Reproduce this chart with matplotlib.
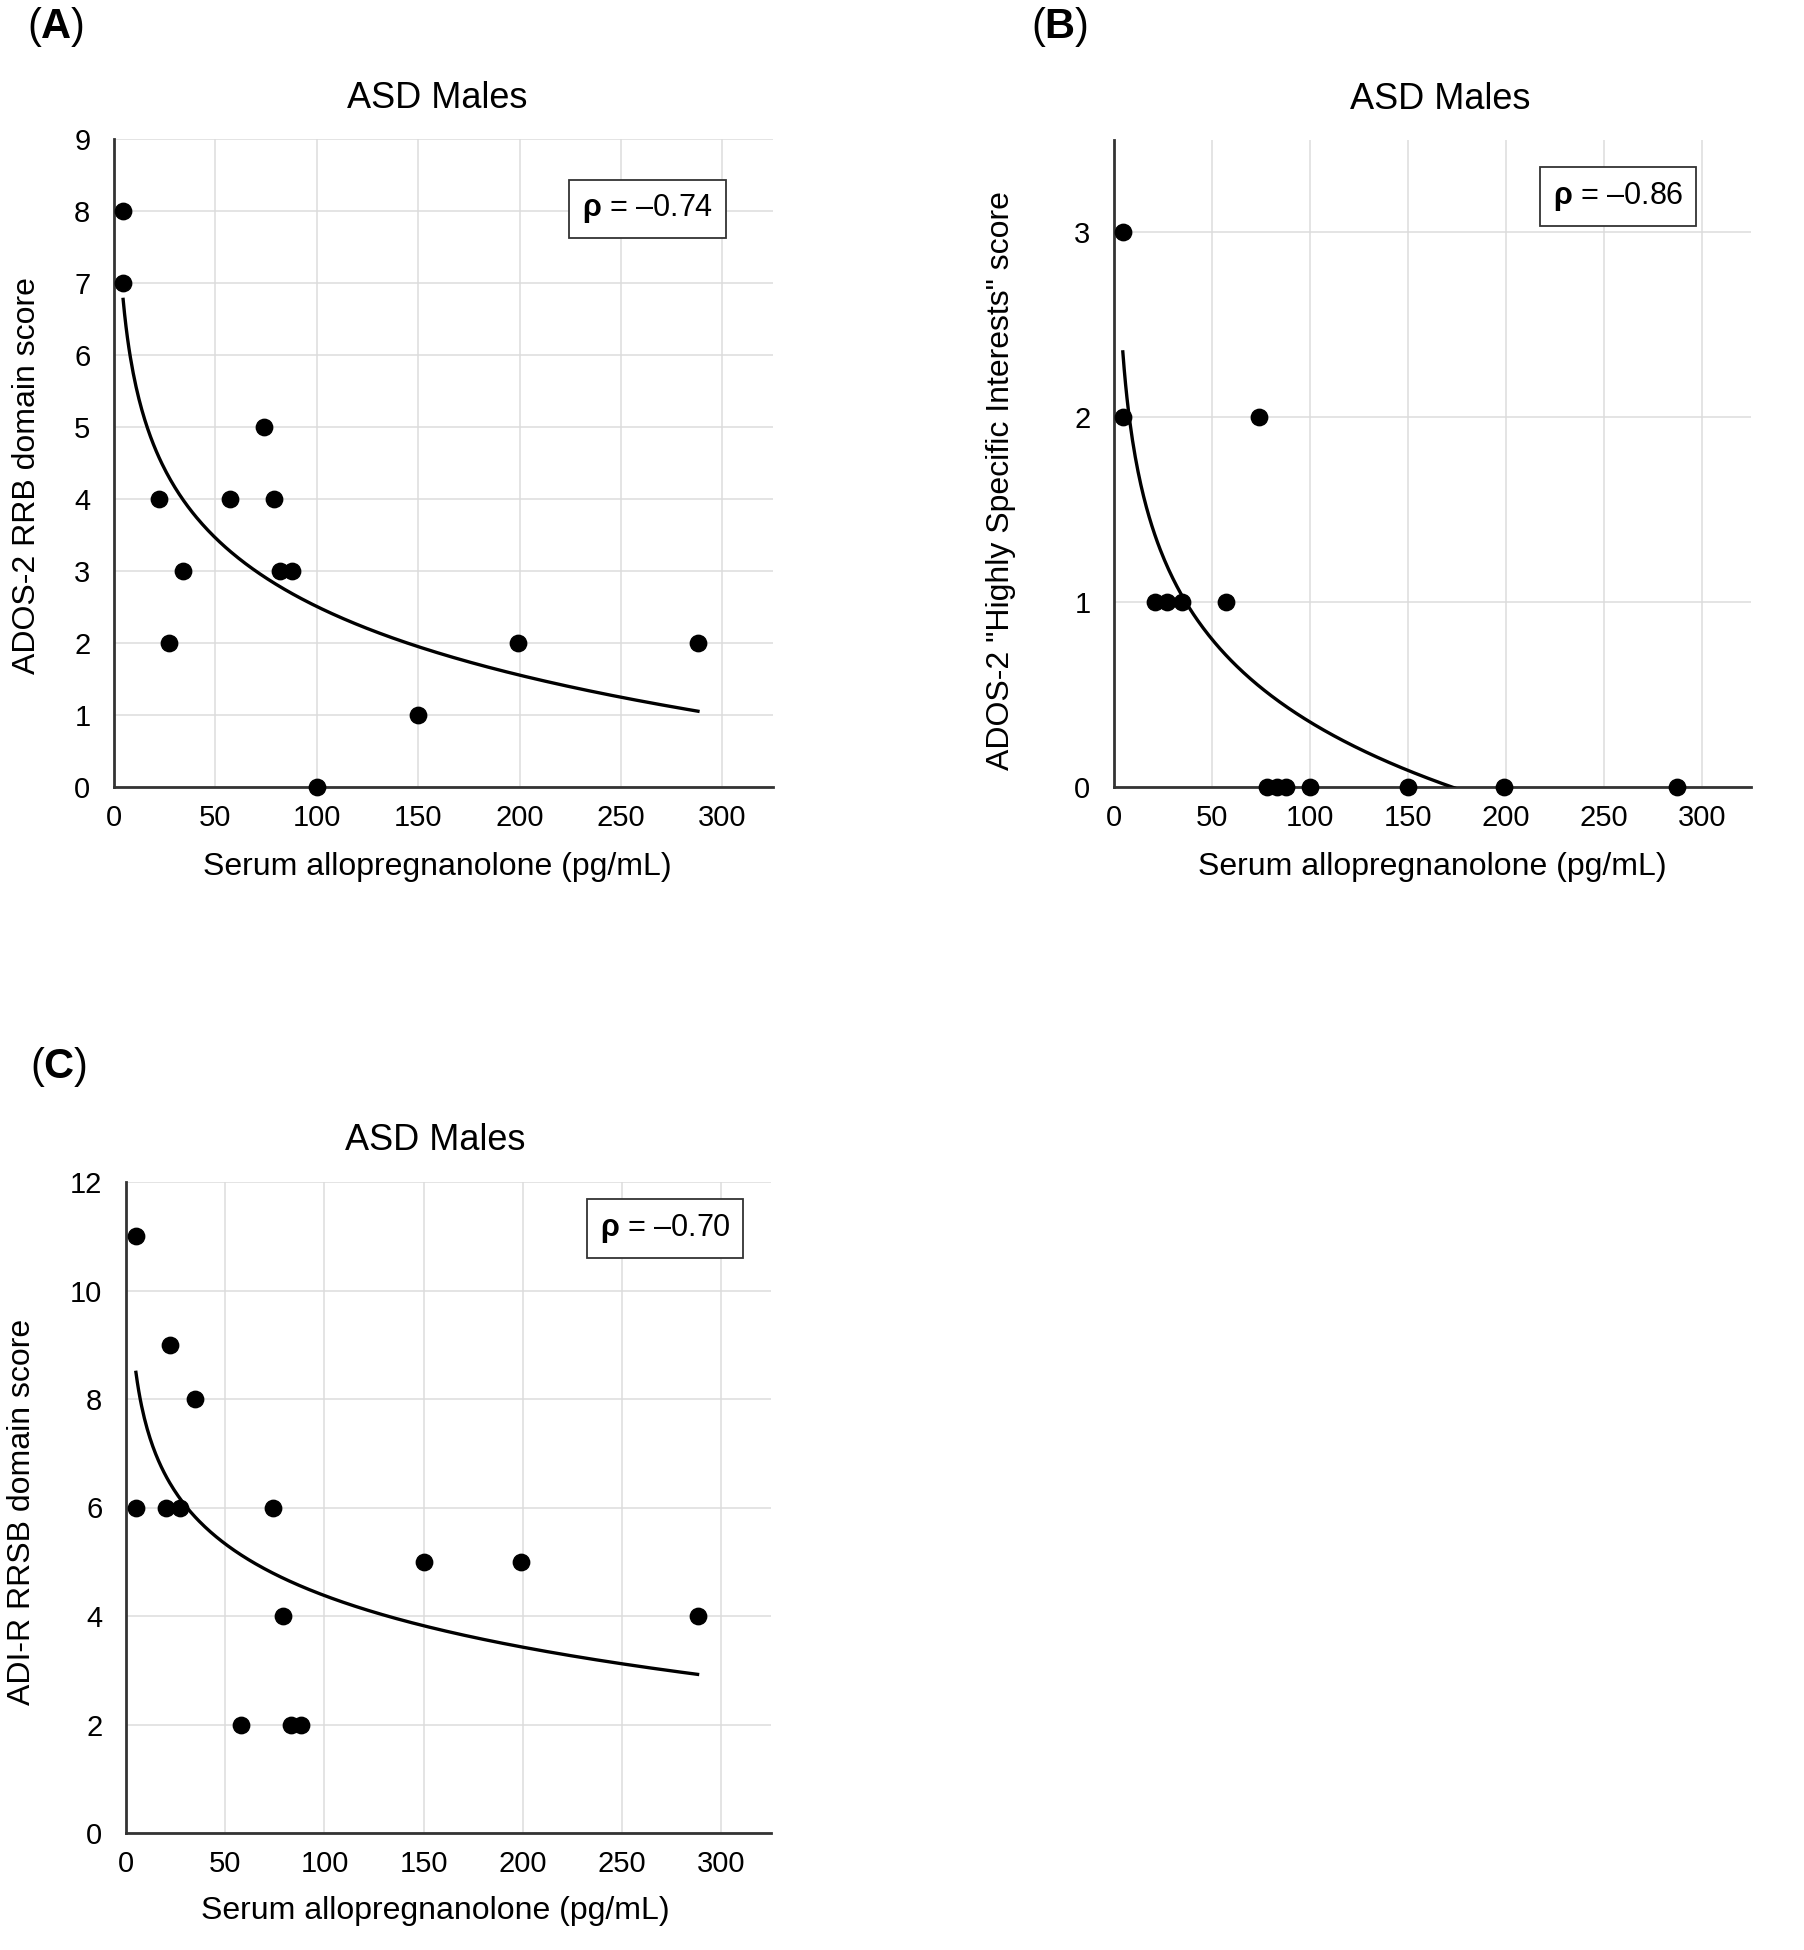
import numpy as np
import matplotlib
matplotlib.use("Agg")
import matplotlib.pyplot as plt

plt.rcParams['font.family'] = ['Liberation Sans', 'DejaVu Sans']
plt.rcParams['mathtext.fontset'] = 'custom'
plt.rcParams['mathtext.rm'] = 'Liberation Sans'
plt.rcParams['mathtext.bf'] = 'Liberation Sans:bold'
plt.rcParams['mathtext.it'] = 'Liberation Sans:italic'

# Panel A: ADOS-2 RRB domain score
a_x = [4.5, 4.5, 22, 27, 34, 57, 74, 79, 82, 88, 100, 150, 199, 288]
a_y = [8, 7, 4, 2, 3, 4, 5, 4, 3, 3, 0, 1, 2, 2]

# Panel B: ADOS-2 "Highly Specific Interests" score
b_x = [4.5, 4.5, 21, 27, 34.5, 57, 74, 78, 83, 88, 100, 150, 199, 287]
b_y = [3, 2, 1, 1, 1, 1, 2, 0, 0, 0, 0, 0, 0, 0]

# Panel C: ADI-R RRSB domain score
c_x = [5, 5, 22, 20, 27, 35, 58, 74, 79, 83, 88, 150, 199, 288]
c_y = [11, 6, 9, 6, 6, 8, 2, 6, 4, 2, 2, 5, 5, 4]

rhos = ["-0.74", "-0.86", "-0.70"]
ylabels = ["ADOS-2 RRB domain score",
           'ADOS-2 "Highly Specific Interests" score',
           "ADI-R RRSB domain score"]
xlabel = "Serum allopregnanolone (pg/mL)"
title = "ASD Males"

W, H = 1804, 1950
fig = plt.figure(figsize=(W / 100, H / 100), dpi=100)


def px_axes(l, t, r, b):
    return fig.add_axes([l / W, 1 - b / H, (r - l) / W, (b - t) / H])


def panel(ax, x, y, ymax, yticks, ylab, rho, rho_pos, title_x, xlab_pos, ylab_pos):
    ax.set_xlim(0, 325)
    ax.set_ylim(0, ymax)
    ax.set_xticks([0, 50, 100, 150, 200, 250, 300])
    ax.set_yticks(yticks)
    ax.grid(True, color="#dcdcdc", lw=1.1)
    ax.set_axisbelow(True)
    for s in ["top", "right"]:
        ax.spines[s].set_visible(False)
    for s in ["left", "bottom"]:
        ax.spines[s].set_color("#333333")
        ax.spines[s].set_linewidth(2.0)
    ax.tick_params(axis="both", length=0, labelsize=21, colors="black")
    ax.tick_params(axis="y", pad=17)
    ax.tick_params(axis="x", pad=12)

    # logarithmic trendline fitted to the data
    lx = np.log(np.array(x))
    bcoef, acoef = np.polyfit(lx, np.array(y), 1)
    xs = np.linspace(min(x), max(x), 400)
    ax.plot(xs, acoef + bcoef * np.log(xs), color="black", lw=2.4, zorder=3)
    ax.plot(x, y, "o", color="black", ms=11.8, clip_on=False, zorder=4)

    ax.text(title_x, 1.063, title, transform=ax.transAxes, ha="center",
            va="center", fontsize=26)
    ax.set_xlabel(xlabel, fontsize=23)
    ax.xaxis.label.set_va("center")
    ax.xaxis.set_label_coords(*xlab_pos)
    ax.set_ylabel(ylab, fontsize=23)
    ax.yaxis.label.set_va("center")
    ax.yaxis.set_label_coords(*ylab_pos)
    ax.text(rho_pos[0], rho_pos[1], "$\\mathbf{\u03c1}$ = " + rho.replace("-", "\u2013"),
            transform=ax.transAxes, ha="center", va="center", fontsize=22,
            bbox=dict(boxstyle="square,pad=0.42", fc="white", ec="#333333", lw=1.3),
            zorder=5)


axA = px_axes(114, 139, 773, 787)
panel(axA, a_x, a_y, 9, list(range(10)), ylabels[0], rhos[0], (0.81, 0.892),
      0.49, (0.49, -0.1235), (-0.132, 0.48))

axB = px_axes(1114, 140, 1751, 787)
panel(axB, b_x, b_y, 3.5, [0, 1, 2, 3], ylabels[1], rhos[1], (0.791, 0.913),
      0.512, (0.499, -0.1236), (-0.177, 0.474))

axC = px_axes(126, 1182, 771, 1833)
panel(axC, c_x, c_y, 12, [0, 2, 4, 6, 8, 10, 12], ylabels[2], rhos[2], (0.836, 0.929),
      0.479, (0.479, -0.12), (-0.161, 0.493))

for lbl, xpx, ypx in [("A", 27, 27), ("B", 1031, 27), ("C", 30, 1067)]:
    fig.text(xpx / W, 1 - ypx / H, r"($\mathbf{" + lbl + "}$)", fontsize=30,
             ha="left", va="center")

fig.savefig("out.png", dpi=100, facecolor="white")
